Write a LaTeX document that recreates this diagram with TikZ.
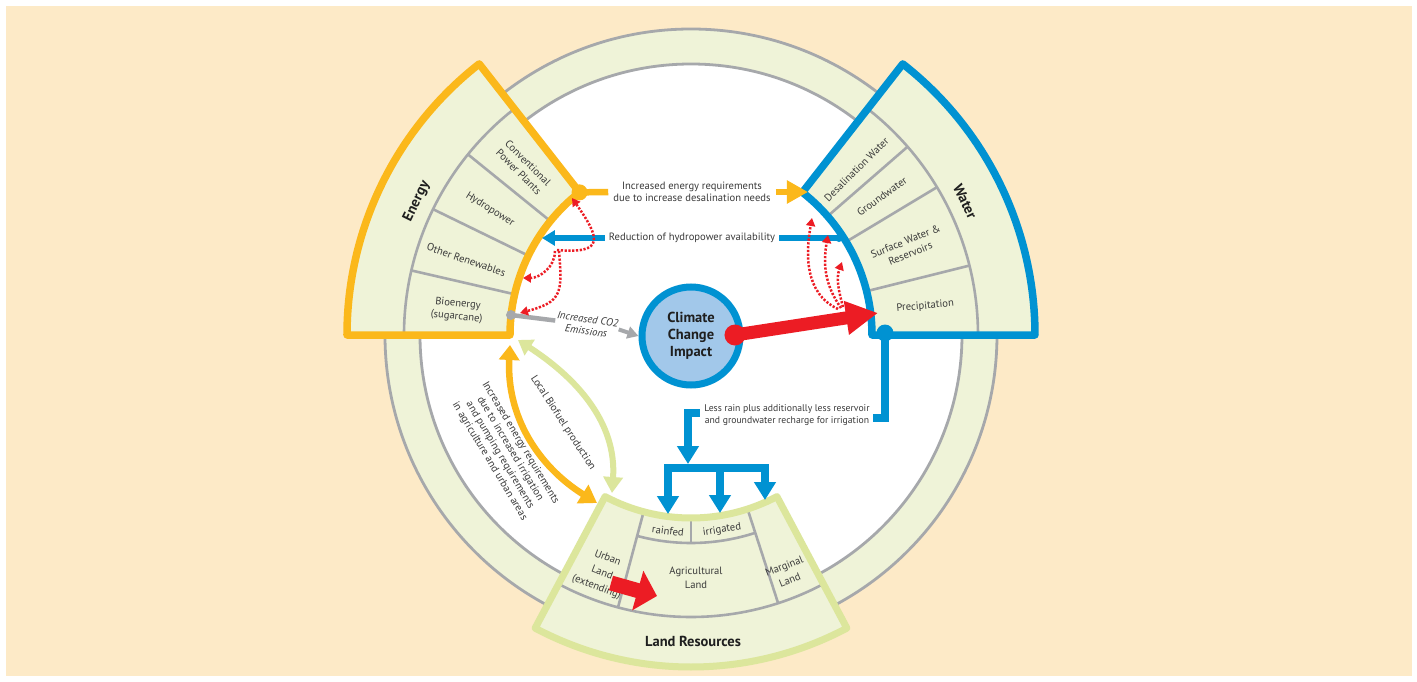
\documentclass[tikz,border=0pt]{standalone}
\usepackage{fontspec}
\setmainfont{PT Sans}
\usetikzlibrary{arrows.meta}

\definecolor{bgbeige}{HTML}{FDEAC7}
\definecolor{paleg}{HTML}{EFF3D8}
\definecolor{ringgray}{HTML}{A6A8AB}
\definecolor{enyellow}{HTML}{FBB81B}
\definecolor{wblue}{HTML}{0092D2}
\definecolor{landg}{HTML}{DCE69C}
\definecolor{cred}{HTML}{EC1C24}
\definecolor{cfill}{HTML}{A2C8EA}
\definecolor{txtgray}{HTML}{3A3A3A}

% annular sector: start angle, end angle, inner radius, outer radius
\newcommand{\sectorpath}[4]{(#1:#3) -- (#1:#4) arc[start angle=#1, end angle=#2, radius=#4pt] -- (#2:#3) arc[start angle=#2, end angle=#1, radius=#3pt] -- cycle}

\tikzset{
  x=1pt, y=1pt,
  sector/.style={line width=7.5pt, line join=round},
  divline/.style={draw=ringgray, line width=2.6pt},
  ringline/.style={draw=ringgray, line width=2.8pt},
  lbl/.style={font=\fontsize{10.6}{13}\selectfont, text=txtgray, align=center, inner sep=1pt},
  conlbl/.style={lbl, font=\fontsize{10.6}{12}\selectfont},
  hdr/.style={font=\fontsize{14.5}{17}\selectfont\bfseries, text=black!88, align=center, inner sep=1pt},
  ydot/.style={circle, fill=enyellow, minimum size=16pt, inner sep=0pt},
  bdot/.style={circle, fill=wblue, minimum size=17pt, inner sep=0pt},
  yline/.style={enyellow, line width=6.5pt},
  yarrow/.style={yline, -{Triangle[length=21pt,width=22pt]}},
  ydouble/.style={yline, {Triangle[length=15pt,width=20pt]}-{Triangle[length=17pt,width=21pt]}},
  gdouble/.style={landg, line width=6pt, {Triangle[length=14pt,width=18pt]}-{Triangle[length=16pt,width=19pt]}},
  bline/.style={wblue, line width=8pt},
  bfeed/.style={bline, -{Triangle[length=18pt,width=21pt]}},
  bthin/.style={wblue, line width=5.5pt},
  bthinarrow/.style={bthin, -{Triangle[length=13pt,width=15pt]}},
  gline/.style={ringgray, line width=4.5pt},
  garrow/.style={ringgray, line width=4pt, -{Triangle[length=11pt,width=12pt]}},
  rarrow/.style={cred, line width=13pt, -{Triangle[length=32pt,width=32pt]}},
  rblock/.style={cred, line width=15pt, -{Triangle[length=20pt,width=40pt]}},
  dots/.style={cred, line width=2.5pt, dash pattern=on 2.2pt off 1.6pt, -{Triangle[length=8pt,width=9pt]}}
}

\begin{document}
\begin{tikzpicture}
\useasboundingbox (-691,-346) rectangle (726,335);
\fill[white] (-691,-346) rectangle (726,335);
\fill[bgbeige] (-685,-341) rectangle (721,329);

% ring
\draw[ringline, fill=paleg] (0,0) circle[radius=306pt];
\draw[ringline, fill=white] (0,0) circle[radius=271pt];

% energy
\fill[paleg] \sectorpath{128}{180}{181}{344};
\draw[divline] (128:287) arc[start angle=128, end angle=180, radius=287pt];
\foreach \a in {141,154,167} \draw[divline] (\a:181) -- (\a:287);
\draw[sector, draw=enyellow] \sectorpath{128}{180}{181}{344};

% water
\fill[paleg] \sectorpath{0}{52}{181}{344};
\draw[divline] (0:287) arc[start angle=0, end angle=52, radius=287pt];
\foreach \a in {14,31,41} \draw[divline] (\a:181) -- (\a:287);
\draw[sector, draw=wblue] \sectorpath{0}{52}{181}{344};

% land
\fill[paleg] \sectorpath{-118}{-62}{183}{332};
\draw[divline] (-118:282) arc[start angle=-118, end angle=-62, radius=282pt];
\draw[divline] (-105:208) arc[start angle=-105, end angle=-72, radius=208pt];
\foreach \a in {-105,-72} \draw[divline] (\a:183) -- (\a:282);
\draw[divline] (-90:183) -- (-90:208);
\draw[sector, draw=landg, line width=7pt] \sectorpath{-118}{-62}{183}{332};

\node[hdr, rotate=64] (energy) at (154:305) {Energy};
\node[lbl, rotate=-45] (conv) at (135:237) {Conventional\\Power Plants};
\node[lbl, rotate=-32] (hydro) at (148:237) {Hydropower};
\node[lbl, rotate=-19] (otherren) at (161.5:237) {Other Renewables};
\node[lbl, rotate=-6] (bio) at (174:235) {Bioenergy\\(sugarcane)};

\node[hdr, rotate=-64] (water) at (26:305) {Water};
\node[lbl, rotate=45] (desal) at (45:234) {Desalination Water};
\node[lbl, rotate=36] (ground) at (36:236) {Groundwater};
\node[lbl, rotate=22] (surface) at (22:234) {Surface Water \&\\Reservoirs};
\node[lbl, rotate=5] (precip) at (7:236) {Precipitation};

\node[lbl, rotate=-7] (rainfed) at (-23,-196) {rainfed};
\node[lbl, rotate=9] (irrig) at (31,-195) {irrigated};
\node[lbl, font=\fontsize{10.6}{14}\selectfont] (agri) at (5,-243) {Agricultural\\Land};
\node[lbl, font=\fontsize{10.6}{15.5}\selectfont, rotate=-21] (urban) at (-89,-238) {Urban\\Land\\(extending)};
\node[lbl, font=\fontsize{10.6}{15}\selectfont, rotate=22] (marginal) at (96,-238) {Marginal\\Land};
\node[hdr] (landres) at (2,-306) {Land Resources};

% energy -> water
\node[ydot] (edot) at (128:181) {};
\node[conlbl, inner xsep=5pt] (t1) at (1,143) {Increased energy requirements\\due to increase desalination needs};
\coordinate (wtip) at (117,143);
\draw[yline] (edot.center) -- (t1.west);
\draw[yarrow] (t1.east) -- (wtip);

% water -> energy
\node[circle, fill=wblue, minimum size=8pt, inner sep=0pt] (wdot) at (148,97) {};
\node[lbl, inner xsep=4pt] (t2) at (1,97) {Reduction of hydropower availability};
\coordinate (htip) at (-149,97);
\draw[bthin] (wdot.center) -- (t2.east);
\draw[bthinarrow] (t2.west) -- (htip);

% co2
\node[circle, fill=ringgray, minimum size=10pt, inner sep=0pt] (gdot) at (-180,20) {};
\node[conlbl, font=\fontsize{10.6}{12}\selectfont\itshape, rotate=-8] (co2) at (-104,10) {Increased CO2\\Emissions};

% climate
\node[circle, draw=wblue, line width=7pt, fill=cfill, minimum size=98pt, hdr, inner sep=0pt] (cci) at (0,-1) {Climate\\Change\\Impact};
\draw[gline] (gdot.center) -- (co2.west);
\draw[garrow] (co2.east) -- (cci.west);

% water -> land
\node[bdot] (wdot2) at (194,2) {};
\node[conlbl, font=\fontsize{9.7}{11.5}\selectfont] (t3) at (96,-80) {Less rain plus additionally less reservoir\\and groundwater recharge for irrigation};
\coordinate (lessR) at (182,-83);
\coordinate (lessL) at (9,-78);
\coordinate (feed) at (-3,-129);
\draw[bline] (wdot2.center) |- (lessR);
\draw[bfeed] (lessL) -| (feed);
\coordinate (barA) at (-23,-133);
\coordinate (barB) at (29,-133);
\coordinate (barC) at (74,-133);
\coordinate (tipA) at (-23,-179);
\coordinate (tipB) at (29,-178);
\coordinate (tipC) at (74,-165);
\draw[bline, line cap=rect] (barA) -- (barC);
\draw[bfeed] (barA) -- (tipA);
\draw[bfeed] (barB) -- (tipB);
\draw[bfeed] (barC) -- (tipC);

% energy <-> land
\coordinate (enbot) at (-181,-10);
\coordinate (landtl) at (-94,-168);
\draw[ydouble] (enbot) to[out=-93, in=148] (landtl);
\coordinate (enbot2) at (-173,-5);
\coordinate (landtl2) at (-79,-158);
\draw[gdouble] (enbot2) to[out=-33, in=86] (landtl2);
\node[lbl, rotate=-57] (biofuel) at (-128,-88) {Local Biofuel production};
\node[conlbl, rotate=-59] (irrtxt) at (-186,-117) {Increased energy requirements\\due to increased irrigation\\and pumping requirements\\in agriculture and urban areas};

% urban land extending
\coordinate (urbS) at (-80,-248);
\coordinate (urbE) at (-34,-261);
\draw[rblock] (urbS) -- (urbE);

% climate -> precipitation
\node[circle, fill=cred, minimum size=21pt, inner sep=0pt] (rdot) at (44,0) {};
\coordinate (prtip) at (187,22);
\draw[rarrow] (rdot.center) -- (prtip);

% dotted feedbacks
\coordinate (tipConv) at (-119,137);
\coordinate (tipOther) at (-168,57);
\coordinate (tipBio) at (-171,22);
\draw[dots] (-134,85) to[out=-5, in=-55, looseness=2.3] (tipConv);
\draw[dots] (-136,84) to[out=-90, in=0] (tipOther);
\draw[dots] (-132,84) to[out=-85, in=15, looseness=1.5] (tipBio);
\coordinate (tipDesal) at (121,117);
\coordinate (tipGround) at (137,100);
\coordinate (tipSurf) at (151,73);
\draw[dots] (147,26) to[out=155, in=-100] (tipDesal);
\draw[dots] (150,27) to[out=125, in=-100] (tipGround);
\draw[dots] (152,28) to[out=105, in=-110] (tipSurf);
\end{tikzpicture}
\end{document}
